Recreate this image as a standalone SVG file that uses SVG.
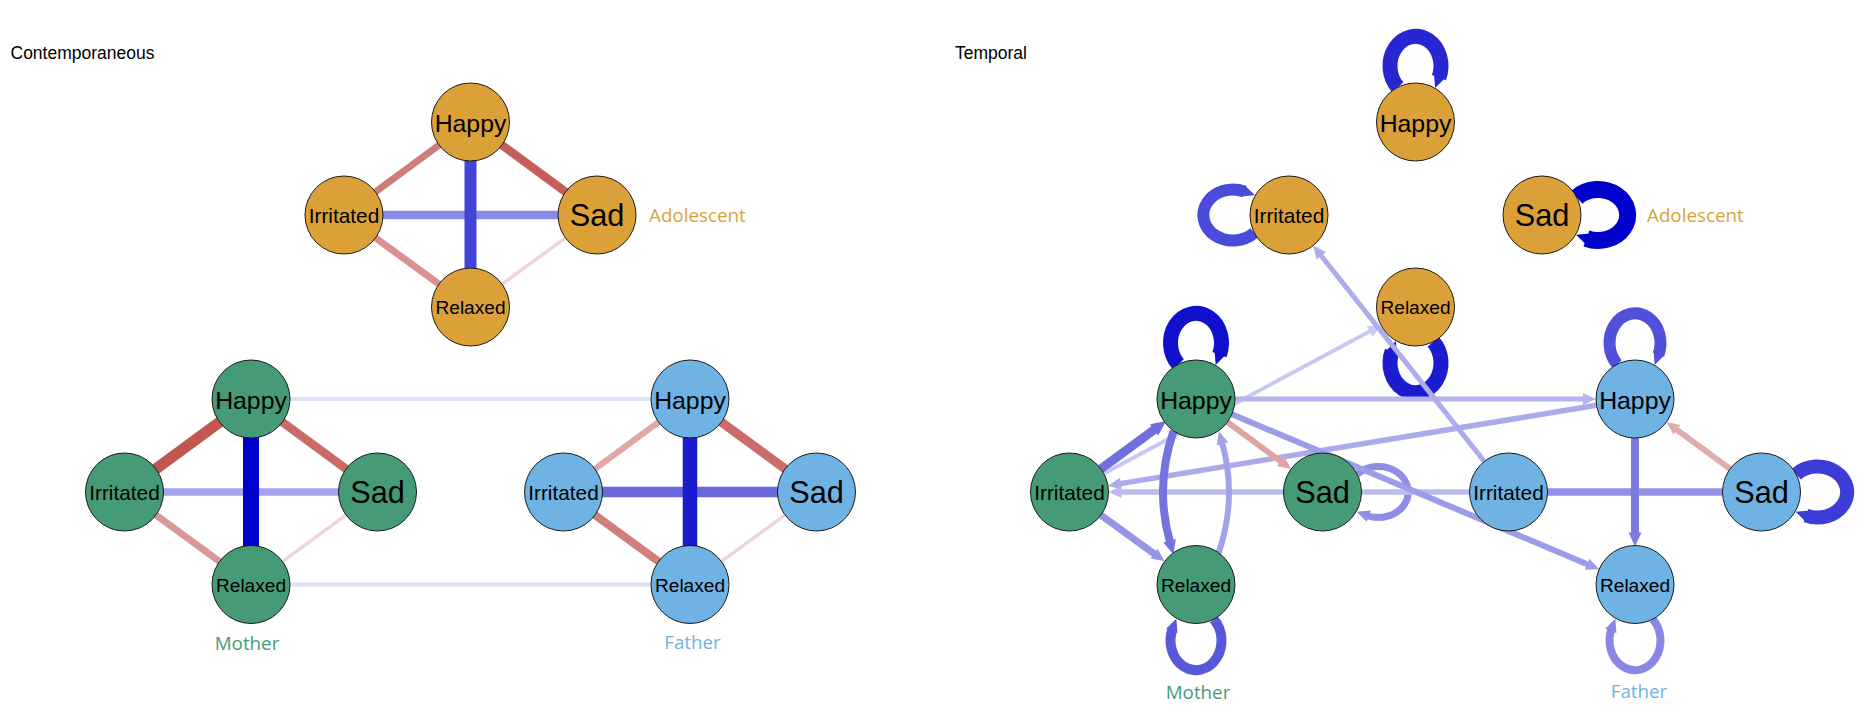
<svg xmlns="http://www.w3.org/2000/svg" width="1868" height="714" viewBox="0 0 1868 714">
<style>
.title{font-family:"Liberation Sans",Arial,sans-serif;font-size:17.5px;fill:#000}
.grp{font-family:"Open Sans","Noto Sans",sans-serif;font-size:18.8px}
.nl{font-family:"Liberation Sans",Arial,sans-serif;text-anchor:middle;fill:#000}
.h{font-size:24.8px}.i{font-size:20.8px}.s{font-size:30.7px}.r{font-size:19.1px}
.ad{fill:#DBA138}.mo{fill:#459B76}.fa{fill:#6EB3E3}
circle{stroke:#1a1a1a;stroke-width:1}
line,path.e{fill:none;stroke-linecap:butt}
</style>
<defs>
<marker id="m1" markerUnits="userSpaceOnUse" markerWidth="13" markerHeight="12" refX="2" refY="6" orient="auto" overflow="visible"><path d="M0,0 L13,6 L0,12 z" fill="#ADADEC"/></marker>
<marker id="m2" markerUnits="userSpaceOnUse" markerWidth="13" markerHeight="12" refX="2" refY="6" orient="auto" overflow="visible"><path d="M0,0 L13,6 L0,12 z" fill="#C8C8F2"/></marker>
<marker id="m3" markerUnits="userSpaceOnUse" markerWidth="13" markerHeight="12" refX="2" refY="6" orient="auto" overflow="visible"><path d="M0,0 L13,6 L0,12 z" fill="#B4B4EE"/></marker>
<marker id="m4" markerUnits="userSpaceOnUse" markerWidth="13" markerHeight="12" refX="2" refY="6" orient="auto" overflow="visible"><path d="M0,0 L13,6 L0,12 z" fill="#ABABEB"/></marker>
<marker id="m5" markerUnits="userSpaceOnUse" markerWidth="13" markerHeight="12" refX="2" refY="6" orient="auto" overflow="visible"><path d="M0,0 L13,6 L0,12 z" fill="#9C9CE8"/></marker>
<marker id="m6" markerUnits="userSpaceOnUse" markerWidth="13" markerHeight="12" refX="2" refY="6" orient="auto" overflow="visible"><path d="M0,0 L13,6 L0,12 z" fill="#DFA3A3"/></marker>
<marker id="m7" markerUnits="userSpaceOnUse" markerWidth="13" markerHeight="12" refX="2" refY="6" orient="auto" overflow="visible"><path d="M0,0 L13,6 L0,12 z" fill="#BBBBF0"/></marker>
<marker id="m8" markerUnits="userSpaceOnUse" markerWidth="13" markerHeight="12" refX="2" refY="6" orient="auto" overflow="visible"><path d="M0,0 L13,6 L0,12 z" fill="#9090E6"/></marker>
<marker id="m9" markerUnits="userSpaceOnUse" markerWidth="15" markerHeight="14" refX="2" refY="7" orient="auto" overflow="visible"><path d="M0,0 L15,7 L0,14 z" fill="#6F6FDE"/></marker>
<marker id="m11" markerUnits="userSpaceOnUse" markerWidth="14" markerHeight="13" refX="2" refY="6.5" orient="auto" overflow="visible"><path d="M0,0 L14,6.5 L0,13 z" fill="#7474E0"/></marker>
<marker id="m12" markerUnits="userSpaceOnUse" markerWidth="13" markerHeight="12" refX="2" refY="6" orient="auto" overflow="visible"><path d="M0,0 L13,6 L0,12 z" fill="#A2A2EB"/></marker>
<marker id="m13" markerUnits="userSpaceOnUse" markerWidth="13" markerHeight="12" refX="2" refY="6" orient="auto" overflow="visible"><path d="M0,0 L13,6 L0,12 z" fill="#9595E7"/></marker>
<marker id="m14" markerUnits="userSpaceOnUse" markerWidth="14" markerHeight="13" refX="2" refY="6.5" orient="auto" overflow="visible"><path d="M0,0 L14,6.5 L0,13 z" fill="#7B7BE0"/></marker>
<marker id="m15" markerUnits="userSpaceOnUse" markerWidth="13" markerHeight="12" refX="2" refY="6" orient="auto" overflow="visible"><path d="M0,0 L13,6 L0,12 z" fill="#E2ACAC"/></marker>
<marker id="l1" markerUnits="userSpaceOnUse" markerWidth="13" markerHeight="12" refX="2" refY="6" orient="auto" overflow="visible"><path d="M0,0 L13,6 L0,12 z" fill="#2727D2"/></marker>
<marker id="l2" markerUnits="userSpaceOnUse" markerWidth="13" markerHeight="12" refX="2" refY="6" orient="auto" overflow="visible"><path d="M0,0 L13,6 L0,12 z" fill="#4A4ADB"/></marker>
<marker id="l3" markerUnits="userSpaceOnUse" markerWidth="13" markerHeight="12" refX="2" refY="6" orient="auto" overflow="visible"><path d="M0,0 L13,6 L0,12 z" fill="#0000CC"/></marker>
<marker id="l4" markerUnits="userSpaceOnUse" markerWidth="13" markerHeight="12" refX="2" refY="6" orient="auto" overflow="visible"><path d="M0,0 L13,6 L0,12 z" fill="#1B1BCF"/></marker>
<marker id="l5" markerUnits="userSpaceOnUse" markerWidth="13" markerHeight="12" refX="2" refY="6" orient="auto" overflow="visible"><path d="M0,0 L13,6 L0,12 z" fill="#1111CD"/></marker>
<marker id="l6" markerUnits="userSpaceOnUse" markerWidth="13" markerHeight="12" refX="2" refY="6" orient="auto" overflow="visible"><path d="M0,0 L13,6 L0,12 z" fill="#8E8EE6"/></marker>
<marker id="l7" markerUnits="userSpaceOnUse" markerWidth="13" markerHeight="12" refX="2" refY="6" orient="auto" overflow="visible"><path d="M0,0 L13,6 L0,12 z" fill="#5858DA"/></marker>
<marker id="l8" markerUnits="userSpaceOnUse" markerWidth="13" markerHeight="12" refX="2" refY="6" orient="auto" overflow="visible"><path d="M0,0 L13,6 L0,12 z" fill="#5050DA"/></marker>
<marker id="l9" markerUnits="userSpaceOnUse" markerWidth="13" markerHeight="12" refX="2" refY="6" orient="auto" overflow="visible"><path d="M0,0 L13,6 L0,12 z" fill="#3C3CD6"/></marker>
<marker id="l10" markerUnits="userSpaceOnUse" markerWidth="13" markerHeight="12" refX="2" refY="6" orient="auto" overflow="visible"><path d="M0,0 L13,6 L0,12 z" fill="#8888E4"/></marker>
</defs>
<rect width="1868" height="714" fill="#fff"/>
<text class="title" x="10.5" y="58.5">Contemporaneous</text>
<text class="title" x="955" y="58.5">Temporal</text>

<g id="c-edges">
<line x1="597" y1="215" x2="470.5" y2="307" stroke="#EFD6D6" stroke-width="3.5"/>
<line x1="470.5" y1="122" x2="344" y2="215" stroke="#D07D79" stroke-width="7"/>
<line x1="344" y1="215" x2="470.5" y2="307" stroke="#D9928F" stroke-width="7"/>
<line x1="344" y1="215" x2="597" y2="215" stroke="#8989E6" stroke-width="8.5"/>
<line x1="470.5" y1="122" x2="597" y2="215" stroke="#C65D59" stroke-width="8.5"/>
<line x1="470.5" y1="122" x2="470.5" y2="307" stroke="#4444D8" stroke-width="12"/>
<line x1="251" y1="399" x2="690" y2="399" stroke="#DFDFF7" stroke-width="4"/>
<line x1="251" y1="584.5" x2="690" y2="584.5" stroke="#DFDFF7" stroke-width="4"/>
<line x1="377.5" y1="492" x2="251" y2="584.5" stroke="#EFD6D6" stroke-width="3.5"/>
<line x1="124.5" y1="492" x2="251" y2="584.5" stroke="#D99A97" stroke-width="7"/>
<line x1="124.5" y1="492" x2="377.5" y2="492" stroke="#A4A4EC" stroke-width="7.5"/>
<line x1="251" y1="399" x2="377.5" y2="492" stroke="#CB6B66" stroke-width="8.5"/>
<line x1="251" y1="399" x2="124.5" y2="492" stroke="#C25650" stroke-width="11"/>
<line x1="251" y1="399" x2="251" y2="584.5" stroke="#0000CC" stroke-width="16"/>
<line x1="816.5" y1="492" x2="690" y2="584.5" stroke="#EFD6D6" stroke-width="3.5"/>
<line x1="690" y1="399" x2="563.5" y2="492" stroke="#E0A7A4" stroke-width="6"/>
<line x1="563.5" y1="492" x2="690" y2="584.5" stroke="#D27F7C" stroke-width="8"/>
<line x1="690" y1="399" x2="816.5" y2="492" stroke="#CB6C68" stroke-width="9"/>
<line x1="563.5" y1="492" x2="816.5" y2="492" stroke="#6969DD" stroke-width="10.5"/>
<line x1="690" y1="399" x2="690" y2="584.5" stroke="#1B1BCF" stroke-width="14.5"/>
</g>

<g id="t-edges">
<g transform="translate(1415.5,122)"><path class="e" d="M-17.7,-34.75 A25.5,29.6 0 1 1 23.45,-44.44" stroke="#2727D2" stroke-width="15" marker-end="url(#l1)"/></g>
<g transform="translate(1289,215) rotate(-90)"><path class="e" d="M-17.7,-34.75 A25.5,29.6 0 1 1 23.45,-44.44" stroke="#4A4ADB" stroke-width="12" marker-end="url(#l2)"/></g>
<g transform="translate(1542,215) rotate(90)"><path class="e" d="M-17.7,-34.75 A25.5,29.6 0 1 1 23.45,-44.44" stroke="#0000CC" stroke-width="17" marker-end="url(#l3)"/></g>
<g transform="translate(1415.5,307) rotate(180)"><path class="e" d="M-17.7,-34.75 A25.5,29.6 0 1 1 23.45,-44.44" stroke="#1B1BCF" stroke-width="15" marker-end="url(#l4)"/></g>
<g transform="translate(1196,399)"><path class="e" d="M-17.7,-34.75 A25.5,29.6 0 1 1 23.45,-44.44" stroke="#1111CD" stroke-width="15" marker-end="url(#l5)"/></g>
<g transform="translate(1322.5,492) rotate(90)"><path class="e" d="M-17.7,-34.75 A25.5,29.6 0 1 1 23.45,-44.44" stroke="#8E8EE6" stroke-width="7" marker-end="url(#l6)"/></g>
<g transform="translate(1196,584.5) rotate(180)"><path class="e" d="M-17.7,-34.75 A25.5,29.6 0 1 1 23.45,-44.44" stroke="#5858DA" stroke-width="10" marker-end="url(#l7)"/></g>
<g transform="translate(1635,399)"><path class="e" d="M-17.7,-34.75 A25.5,29.6 0 1 1 23.45,-44.44" stroke="#5050DA" stroke-width="12" marker-end="url(#l8)"/></g>
<g transform="translate(1761.5,492) rotate(90)"><path class="e" d="M-17.7,-34.75 A25.5,29.6 0 1 1 23.45,-44.44" stroke="#3C3CD6" stroke-width="14" marker-end="url(#l9)"/></g>
<g transform="translate(1635,584.5) rotate(180)"><path class="e" d="M-17.7,-34.75 A25.5,29.6 0 1 1 23.45,-44.44" stroke="#8888E4" stroke-width="8" marker-end="url(#l10)"/></g>
<line x1="1103.9" y1="473.6" x2="1371.4" y2="330.6" stroke="#C8C8F2" stroke-width="4" marker-end="url(#m2)"/>
<line x1="1235" y1="399" x2="1585" y2="399" stroke="#B4B4EE" stroke-width="5" marker-end="url(#m3)"/>
<line x1="1484.3" y1="461.4" x2="1320" y2="254.2" stroke="#ADADEC" stroke-width="5" marker-end="url(#m1)"/>
<line x1="1596.5" y1="405.3" x2="1118.9" y2="483.9" stroke="#ABABEB" stroke-width="5.5" marker-end="url(#m4)"/>
<line x1="1469.5" y1="492" x2="1119.5" y2="492" stroke="#BBBBF0" stroke-width="5.5" marker-end="url(#m7)"/>
<line x1="1231.9" y1="414.2" x2="1589" y2="565" stroke="#9C9CE8" stroke-width="6" marker-end="url(#m5)"/>
<line x1="1227.4" y1="422.1" x2="1282.2" y2="462.4" stroke="#DFA3A3" stroke-width="6" marker-end="url(#m6)"/>
<line x1="1730.1" y1="468.9" x2="1675.3" y2="428.6" stroke="#E2ACAC" stroke-width="6" marker-end="url(#m15)"/>
<path class="e" d="M1218.4,553.6 Q1237.7,497.8 1221.9,441.9" stroke="#A2A2EB" stroke-width="6" marker-end="url(#m12)"/>
<line x1="1100.9" y1="515.1" x2="1155.7" y2="554.9" stroke="#9595E7" stroke-width="7" marker-end="url(#m13)"/>
<line x1="1722.5" y1="492" x2="1536.5" y2="492" stroke="#9090E6" stroke-width="7.5" marker-end="url(#m8)"/>
<path class="e" d="M1173.6,430.9 Q1154.3,486.7 1170.1,542.6" stroke="#7474E0" stroke-width="8" marker-end="url(#m11)"/>
<line x1="1635" y1="438" x2="1635" y2="534.5" stroke="#7B7BE0" stroke-width="8" marker-end="url(#m14)"/>
<line x1="1100.9" y1="468.9" x2="1155.7" y2="428.6" stroke="#6F6FDE" stroke-width="9" marker-end="url(#m9)"/>
</g>

<g id="c-adol-happy"><circle class="ad" cx="470.5" cy="122" r="39"/><text class="nl h" x="470.5" y="131.5">Happy</text></g>
<g id="c-adol-irritated"><circle class="ad" cx="344" cy="215" r="39"/><text class="nl i" x="344" y="222.6">Irritated</text></g>
<g id="c-adol-sad"><circle class="ad" cx="597" cy="215" r="39"/><text class="nl s" x="597" y="226">Sad</text></g>
<g id="c-adol-relaxed"><circle class="ad" cx="470.5" cy="307" r="39"/><text class="nl r" x="470.5" y="314">Relaxed</text></g>
<g id="c-mother-happy"><circle class="mo" cx="251" cy="399" r="39"/><text class="nl h" x="251" y="408.5">Happy</text></g>
<g id="c-mother-irritated"><circle class="mo" cx="124.5" cy="492" r="39"/><text class="nl i" x="124.5" y="499.6">Irritated</text></g>
<g id="c-mother-sad"><circle class="mo" cx="377.5" cy="492" r="39"/><text class="nl s" x="377.5" y="503">Sad</text></g>
<g id="c-mother-relaxed"><circle class="mo" cx="251" cy="584.5" r="39"/><text class="nl r" x="251" y="591.5">Relaxed</text></g>
<g id="c-father-happy"><circle class="fa" cx="690" cy="399" r="39"/><text class="nl h" x="690" y="408.5">Happy</text></g>
<g id="c-father-irritated"><circle class="fa" cx="563.5" cy="492" r="39"/><text class="nl i" x="563.5" y="499.6">Irritated</text></g>
<g id="c-father-sad"><circle class="fa" cx="816.5" cy="492" r="39"/><text class="nl s" x="816.5" y="503">Sad</text></g>
<g id="c-father-relaxed"><circle class="fa" cx="690" cy="584.5" r="39"/><text class="nl r" x="690" y="591.5">Relaxed</text></g>

<g id="t-adol-happy"><circle class="ad" cx="1415.5" cy="122" r="39"/><text class="nl h" x="1415.5" y="131.5">Happy</text></g>
<g id="t-adol-irritated"><circle class="ad" cx="1289" cy="215" r="39"/><text class="nl i" x="1289" y="222.6">Irritated</text></g>
<g id="t-adol-sad"><circle class="ad" cx="1542" cy="215" r="39"/><text class="nl s" x="1542" y="226">Sad</text></g>
<g id="t-adol-relaxed"><circle class="ad" cx="1415.5" cy="307" r="39"/><text class="nl r" x="1415.5" y="314">Relaxed</text></g>
<g id="t-mother-happy"><circle class="mo" cx="1196" cy="399" r="39"/><text class="nl h" x="1196" y="408.5">Happy</text></g>
<g id="t-mother-irritated"><circle class="mo" cx="1069.5" cy="492" r="39"/><text class="nl i" x="1069.5" y="499.6">Irritated</text></g>
<g id="t-mother-sad"><circle class="mo" cx="1322.5" cy="492" r="39"/><text class="nl s" x="1322.5" y="503">Sad</text></g>
<g id="t-mother-relaxed"><circle class="mo" cx="1196" cy="584.5" r="39"/><text class="nl r" x="1196" y="591.5">Relaxed</text></g>
<g id="t-father-happy"><circle class="fa" cx="1635" cy="399" r="39"/><text class="nl h" x="1635" y="408.5">Happy</text></g>
<g id="t-father-irritated"><circle class="fa" cx="1508.5" cy="492" r="39"/><text class="nl i" x="1508.5" y="499.6">Irritated</text></g>
<g id="t-father-sad"><circle class="fa" cx="1761.5" cy="492" r="39"/><text class="nl s" x="1761.5" y="503">Sad</text></g>
<g id="t-father-relaxed"><circle class="fa" cx="1635" cy="584.5" r="39"/><text class="nl r" x="1635" y="591.5">Relaxed</text></g>

<g id="group-labels">
<text class="grp" x="649" y="222" fill="#DBA138">Adolescent</text>
<text class="grp" x="247" y="650" fill="#459B76" text-anchor="middle">Mother</text>
<text class="grp" x="692.5" y="649" fill="#6EB3E3" text-anchor="middle">Father</text>
<text class="grp" x="1647" y="222" fill="#DBA138">Adolescent</text>
<text class="grp" x="1198" y="699" fill="#459B76" text-anchor="middle">Mother</text>
<text class="grp" x="1639" y="698" fill="#6EB3E3" text-anchor="middle">Father</text>
</g>
</svg>
